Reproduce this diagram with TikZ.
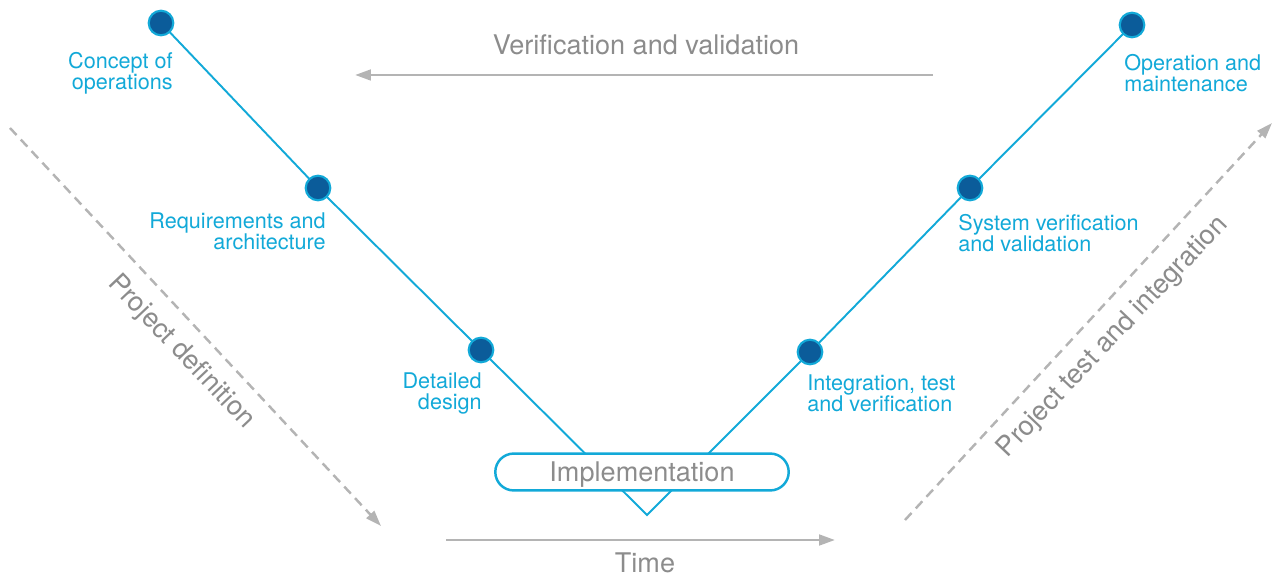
\documentclass[tikz,border=0pt]{standalone}
\usepackage{fontspec}
\setmainfont{TeX Gyre Heros}
\usetikzlibrary{arrows.meta}

\definecolor{vcyan}{HTML}{12A9D8}
\definecolor{vdark}{HTML}{0B5C9A}
\definecolor{vgray}{HTML}{8C8C8C}
\definecolor{vlgray}{HTML}{B4B4B4}

\tikzset{
    phase/.style={circle, fill=vdark, draw=vcyan, line width=1.2pt, minimum size=14pt, inner sep=0pt},
    phaselbl/.style={text=vcyan, inner sep=0pt, font=\fontsize{12.3}{12}\selectfont},
    graylbl/.style={text=vgray, inner sep=0pt, font=\fontsize{15.4}{16}\selectfont},
    grayarrow/.style={vlgray, line width=1.6pt, -{Triangle[length=9pt,width=6pt]}},
    flowarrow/.style={vlgray, line width=1.4pt, dash pattern=on 5.5pt off 3.5pt, -{Triangle[length=9pt,width=6pt]}}
}

\begin{document}
\begin{tikzpicture}[x=0.02cm, y=-0.02cm]
        \useasboundingbox (0,0) rectangle (1273,577);

        % ~~~~ Puntos de la V ~~~~ %
        \coordinate (conops) at (161,23);
        \coordinate (req) at (318,188);
        \coordinate (design) at (481,350);
        \coordinate (apex) at (647,515);
        \coordinate (intg) at (810,352);
        \coordinate (sysv) at (970,188);
        \coordinate (opm) at (1132,25);

        \draw[vcyan, line width=1.1pt] (conops) -- (req) -- (design) -- (apex)
            -- (intg) -- (sysv) -- (opm);

        \node[draw=vcyan, line width=1.4pt, fill=white, rounded corners=10.5pt,
            minimum width=167pt, minimum height=21pt, inner sep=0pt, text depth=0pt,
            text=vgray, font=\fontsize{15.4}{16}\selectfont] (impl) at (642,472) {Implementation};

        \foreach \p in {conops,req,design,intg,sysv,opm}
            \node[phase] (\p dot) at (\p) {};

        % ~~~~ Etiquetas ~~~~ %
        \node[phaselbl, align=right, anchor=north east] (conopslbl) at (173,52) {Concept of\\operations};
        \node[phaselbl, align=right, anchor=north east] (reqlbl) at (326,212) {Requirements and\\architecture};
        \node[phaselbl, align=right, anchor=north east] (designlbl) at (482,372) {Detailed\\design};
        \node[phaselbl, align=left, anchor=north west] (opmlbl) at (1124,54) {Operation and\\maintenance};
        \node[phaselbl, align=left, anchor=north west] (sysvlbl) at (958,214) {System verification\\and validation};
        \node[phaselbl, align=left, anchor=north west] (intglbl) at (807,374) {Integration, test\\and verification};

        % ~~~~ Flechas grises ~~~~ %
        \coordinate (vvstart) at (933,75);
        \coordinate (vvend) at (355,75);
        \draw[grayarrow] (vvstart) -- (vvend);
        \node[graylbl] (vvlbl) at (646,45) {Verification and validation};

        \coordinate (timestart) at (446,540);
        \coordinate (timeend) at (835,540);
        \draw[grayarrow] (timestart) -- (timeend);
        \node[graylbl] (timelbl) at (645,563) {Time};

        \coordinate (defstart) at (10,128);
        \coordinate (defend) at (381,526);
        \draw[flowarrow] (defstart) -- (defend);
        \node[graylbl, rotate=-46.5] (deflbl) at (181,352) {Project definition};

        \coordinate (teststart) at (905,520);
        \coordinate (testend) at (1272,123);
        \draw[flowarrow] (teststart) -- (testend);
        \node[graylbl, rotate=46.5] (testlbl) at (1113,337) {Project test and integration};
    \end{tikzpicture}
\end{document}
